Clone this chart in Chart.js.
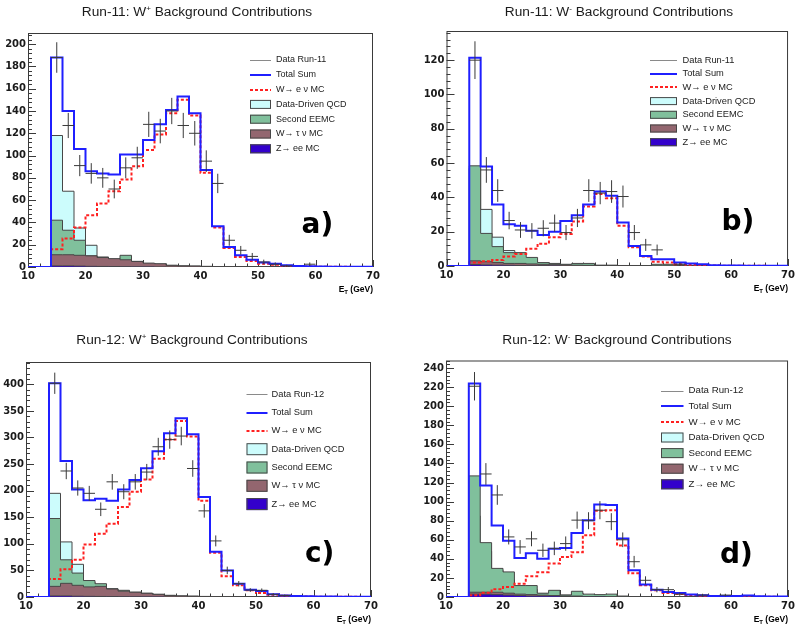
<!DOCTYPE html>
<html lang="en">
<head>
<meta charset="UTF-8">
<title>W Background Contributions</title>
<script src="https://cdn.jsdelivr.net/npm/chart.js@4.4.1/dist/chart.umd.min.js"></script>
<style>
    body { margin: 0; background: #ffffff; }
    .folha { position: relative; width: 798px; height: 631px; overflow: hidden; }
    .pad { position: absolute; }
    .titulo { position: absolute; font: 13.7px "Liberation Sans", Arial, sans-serif; line-height: 14px; color: #1a1a1a; white-space: nowrap; transform: translateX(-50%); }
    .titulo span { position: relative; top: -5px; font-size: 8px; }
</style>
</head>
<body>
<div class="folha">
    <canvas class="pad" id="padA" width="399" height="316" style="left:0;top:0"></canvas>
    <canvas class="pad" id="padB" width="399" height="316" style="left:399px;top:0"></canvas>
    <canvas class="pad" id="padC" width="399" height="316" style="left:0;top:315px"></canvas>
    <canvas class="pad" id="padD" width="399" height="316" style="left:399px;top:315px"></canvas>

    <div class="titulo" style="left:197px;top:5px">Run-11: W<span>+</span> Background Contributions</div>
    <div class="titulo" style="left:619px;top:5px">Run-11: W<span>-</span> Background Contributions</div>
    <div class="titulo" style="left:192px;top:333px">Run-12: W<span>+</span> Background Contributions</div>
    <div class="titulo" style="left:617px;top:333px">Run-12: W<span>-</span> Background Contributions</div>
</div>

<script>
    // bordas dos bins (GeV), largura 2
    const binEdges = [10,12,14,16,18,20,22,24,26,28,30,32,34,36,38,40,42,44,46,48,50,52,54,56,58,60,62,64,66,68,70];
    const legendLabels = ['Total Sum', 'W\u2192 e \u03bd MC', 'Data-Driven QCD', 'Second EEMC', 'W\u2192 \u03c4 \u03bd MC', 'Z\u2192 ee MC'];

    // Run-11 W+
    const r11pTotal = [0,0,188,140,106,86,84,83,101,101,114,128,141,153,138,87,36.5,18,10.5,6.5,4,3,1.5,0.8,0.6,0.5,0.3,0.3,0.2,0.2];
    const r11pWenu  = [0,0,16,25.5,35.5,46.5,57,68,78.5,90.5,105,119,138,150,136,84.5,35.5,17,9,5.4,3,2,1,0.6,0.4,0.3,0.2,0.2,0.1,0.1];
    const r11pQcd   = [0,0,118,68,35,19.5,6,4,3,2,1.5,1,1,0.5,0.5,0.5,0,0,0,0,0,0,0,0,0,0,0,0,0,0];
    const r11pEemc  = [0,0,42,33,24,10,9,7,10.5,5,3,2,1.5,1,0.5,0.5,0.3,0.2,0,0,0,0,0,0,0,0,0,0,0,0];
    const r11pTau   = [0,0,11,11,10.5,10,8.5,7.5,6.5,5,3.5,3,1.5,1,1,0.5,0.3,0.2,0.1,0,0,0,0,0,0,0,0,0,0,0];
    const r11pZee   = [0,0,1,1,0.8,0.6,0.5,0.4,0.3,0.2,0.2,0.1,0,0,0,0,0,0,0,0,0,0,0,0,0,0,0,0,0,0];
    const r11pDataX = [15,17,19,21,23,25,27,29,31,33,35,37,39,41,43,45,47,49,51,53,55,59];
    const r11pDataY = [188,127,91,84,80,70,89,98,128,122,140,127,120,95,75,24,15,9.5,4.5,2.5,1,2.5];
    const r11pDataE = [13.7,11.3,9.5,9.2,8.9,8.4,9.4,9.9,11.3,11,11.8,11.3,11,9.7,8.7,4.9,3.9,3.1,2.1,1.6,1,1.6];

    // Run-11 W-
    const r11mTotal = [0,0,121.4,58,35.8,24.4,23.4,20.6,18,20,26.3,29.6,35.8,43.4,41,25.3,11.7,5.8,3.9,3.9,2,1.5,1,0.5,0.3,0.3,0.2,0.2,0.2,0.1];
    const r11mWenu  = [0,0,2.1,2.7,3.5,5.5,7,10,13,16.8,18.7,26,34.7,42,39.5,23.4,10.9,5.5,2.5,2,1,0.7,0.4,0.3,0.2,0.1,0.1,0.1,0,0];
    const r11mQcd   = [0,0,57,33,16.8,9,4,2,1,0.5,0.5,0.5,0.3,0.3,0.2,0.2,0,0,0,0,0,0,0,0,0,0,0,0,0,0];
    const r11mEemc  = [0,0,58.4,19,11.3,7.8,7.8,5,2,1.5,1,1.5,1.5,0.5,0.5,0.3,0.3,0.2,1,1,0.5,0.3,0,0,0,0,0,0,0,0];
    const r11mTau   = [0,0,3,2.5,2,1.5,1.5,1.2,1,0.8,0.6,0.5,0.4,0.3,0.2,0.1,0,0,0,0,0,0,0,0,0,0,0,0,0,0];
    const r11mZee   = [0,0,0.8,0.6,0.5,0.4,0.3,0.2,0.2,0.1,0,0,0,0,0,0,0,0,0,0,0,0,0,0,0,0,0,0,0,0];
    const r11mDataX = [15,17,19,21,23,25,27,29,31,33,35,37,39,41,43,45,47,51];
    const r11mDataY = [120,56,44,26.5,21,20.5,22,25,19.5,28,44,42.5,43.4,40.5,19.5,12.3,9.4,1];
    const r11mDataE = [11,7.5,6.6,5.1,4.6,4.5,4.7,5,4.4,5.3,6.6,6.5,6.6,6.4,4.4,3.5,3.1,1];

    // Run-12 W+
    const r12pTotal = [0,0,402,255.6,202,182,185,181,202,220,242,274,308,336,306,188,85,50,25,13.8,11.3,5,3,2,1.5,1,1,0.5,0.5,0.5];
    const r12pWenu  = [0,0,34,52,70,98.6,119,138,169.5,198,221,260,296,331,302,181,83,39,22,12.6,7.5,4.4,2.5,1.5,1,0.7,0.5,0.4,0.3,0.2];
    const r12pQcd   = [0,0,195,103.6,61.5,28,18,12,8,5,3,2,1.5,1,0.5,0.5,0.3,0,0,0,0,0,0,0,0,0,0,0,0,0];
    const r12pEemc  = [0,0,147.6,70,45,31,25,15.7,12.6,9,7,5,3,2,1.5,1,0.5,0.3,0,0,0,0,0,0,0,0,0,0,0,0];
    const r12pTau   = [0,0,20,25.7,22,19,20,15,11,9,7,5,3,2,1.5,1,0.5,0.3,0.2,0,0,0,0,0,0,0,0,0,0,0];
    const r12pZee   = [0,0,2,2,1.5,1.2,1,0.8,0.6,0.5,0.4,0.3,0.2,0,0,0,0,0,0,0,0,0,0,0,0,0,0,0,0,0];
    const r12pDataX = [15,17,19,21,23,25,27,29,31,33,35,37,39,41,43,45,47,49,51,53,55];
    const r12pDataY = [402,237,205,195,165,216.6,198,216.6,235,282.6,296,302.7,241.7,162,105.5,50,25,13,12.6,5,3];
    const r12pDataE = [20,15.4,14.3,14,12.8,14.7,14.1,14.7,15.3,16.8,17.2,17.4,15.6,12.7,10.3,7.1,5,3.6,3.5,2.2,1.7];

    // Run-12 W-
    const r12mTotal = [0,0,224,117,75,59,41,46,40,50.5,51.5,67,80.6,97,96.4,61.3,28,13,7.7,5.3,4.2,2.5,1.8,1,1,1,1.5,0.8,0.5,0.5];
    const r12mWenu  = [0,0,1.8,4.5,8,10.5,14,21.7,26,35,42,47,64.8,90.4,91,54,25,12.3,7,4.2,3.2,2,1.2,0.8,0.5,0.4,0.3,0.2,0.2,0.1];
    const r12mQcd   = [0,0,85,48,28,18,10,8,3.5,4,2,2,1,1,1,0.5,0,0,0,0,0,0,0,0,0,0,0,0,0,0];
    const r12mEemc  = [0,0,127,57,30,26.3,12,12,4,7,2,6,3,2.5,3,1,0.5,0.3,0.3,0.2,0,0,0,0,0,0,0,0,0,0];
    const r12mTau   = [0,0,5,5,5,4,3,2.5,2,1.5,1,1,0.5,0.5,0.3,0.2,0,0,0,0,0,0,0,0,0,0,0,0,0,0];
    const r12mZee   = [0,0,3,3,2.5,2,1.5,1,1,1,0.5,0.5,0.3,0.2,0,0,0,0,0,0,0,0,0,0,0,0,0,0,0,0];
    const r12mDataX = [15,17,19,21,23,25,27,29,31,33,35,37,39,41,43,45,47,49,51,55,59];
    const r12mDataY = [221,129,107,63,52.5,61,49,51,56,80.6,80,91,79,60,37,17.5,7.7,7.7,3,2,2];
    const r12mDataE = [14.9,11.4,10.3,7.9,7.2,7.8,7,7.1,7.5,9,8.9,9.5,8.9,7.7,6.1,4.2,2.8,2.8,1.7,1.4,1.4];

    const cores = {
        dados: '#3a3a3a', legDados: '#8a8a8a', total: '#1f1fff', wenu: '#ff2020',
        qcd: '#ccfcfc', eemc: '#80c09c', tau: '#93666f', zee: '#3300cc', borda: '#474747'
    };

    const paineis = [
        { canvas: 'padA', nome: 'Data Run-11', letra: 'a)',
          total: r11pTotal, wenu: r11pWenu, qcd: r11pQcd, eemc: r11pEemc, tau: r11pTau, zee: r11pZee,
          dx: r11pDataX, dy: r11pDataY, de: r11pDataE,
          yMax: 210, yStep: 20, yMinor: 4,
          area: { left: 28, right: 373, top: 33, bottom: 267 },
          leg: { x0: 250, x1: 271, tx: 276, y0: 60, dy: 14.8, bh: 9, fs: 9 },
          letraPos: { x: 301.5, y: 233 } },
        { canvas: 'padB', nome: 'Data Run-11', letra: 'b)',
          total: r11mTotal, wenu: r11mWenu, qcd: r11mQcd, eemc: r11mEemc, tau: r11mTau, zee: r11mZee,
          dx: r11mDataX, dy: r11mDataY, de: r11mDataE,
          yMax: 137, yStep: 20, yMinor: 4,
          area: { left: 47.5, right: 393, top: 31, bottom: 266 },
          leg: { x0: 251, x1: 278, tx: 283.5, y0: 60, dy: 13.7, bh: 8, fs: 9.3 },
          letraPos: { x: 322.5, y: 230 } },
        { canvas: 'padC', nome: 'Data Run-12', letra: 'c)',
          total: r12pTotal, wenu: r12pWenu, qcd: r12pQcd, eemc: r12pEemc, tau: r12pTau, zee: r12pZee,
          dx: r12pDataX, dy: r12pDataY, de: r12pDataE,
          yMax: 442, yStep: 50, yMinor: 10,
          area: { left: 26, right: 371, top: 47, bottom: 282 },
          leg: { x0: 246.5, x1: 267.5, tx: 271.5, y0: 79.3, dy: 18.3, bh: 12, fs: 9.3 },
          letraPos: { x: 305, y: 247 } },
        { canvas: 'padD', nome: 'Data Run-12', letra: 'd)',
          total: r12mTotal, wenu: r12mWenu, qcd: r12mQcd, eemc: r12mEemc, tau: r12mTau, zee: r12mZee,
          dx: r12mDataX, dy: r12mDataY, de: r12mDataE,
          yMax: 248, yStep: 20, yMinor: 4,
          area: { left: 47, right: 392, top: 45.5, bottom: 282 },
          leg: { x0: 262, x1: 284.5, tx: 289.5, y0: 75.7, dy: 15.6, bh: 10, fs: 9.7 },
          letraPos: { x: 321, y: 248 } }
    ];

    function degraus(valores) {
        return binEdges.map((e, i) => ({ x: e, y: i < valores.length ? valores[i] : 0 }));
    }

    function cruzes(xs, ys, es) {
        const pts = [];
        xs.forEach((x, i) => {
            pts.push({ x: x - 1, y: ys[i] }, { x: x + 1, y: ys[i] }, { x: x, y: null },
                     { x: x, y: ys[i] - es[i] }, { x: x, y: ys[i] + es[i] }, { x: x, y: null });
        });
        return pts;
    }

    function criarPlugin(p) {
        return {
            id: 'moldura',
            beforeDatasetsDraw(chart) {
                const { ctx, chartArea: a, scales: { x, y } } = chart;
                ctx.save();
                ctx.strokeStyle = '#3a3a3a';
                ctx.lineWidth = 1;
                ctx.strokeRect(a.left + 0.5, a.top + 0.5, a.right - a.left - 1, a.bottom - a.top - 1);
                ctx.beginPath();
                const nY = Math.floor(p.yMax / p.yMinor);
                const cada = p.yStep / p.yMinor;
                for (let k = 0; k <= nY; k++) {
                    const py = Math.round(y.getPixelForValue(k * p.yMinor)) + 0.5;
                    const len = (k % cada === 0) ? 8 : 4;
                    ctx.moveTo(a.left, py);
                    ctx.lineTo(a.left + len, py);
                }
                for (let k = 0; k <= 30; k++) {
                    const px = Math.round(x.getPixelForValue(10 + k * 2)) + 0.5;
                    const len = (k % 5 === 0) ? 7 : 3.5;
                    ctx.moveTo(px, a.bottom);
                    ctx.lineTo(px, a.bottom - len);
                }
                ctx.stroke();
                ctx.restore();
            },
            afterDraw(chart) {
                const { ctx, chartArea: a } = chart;
                const L = p.leg;
                ctx.save();
                ctx.font = L.fs + 'px "Liberation Sans", Arial, sans-serif';
                ctx.textBaseline = 'middle';
                ctx.fillStyle = '#222';
                const itens = [
                    { t: p.nome, tipo: 'linha', cor: cores.legDados, lw: 1 },
                    { t: legendLabels[0], tipo: 'linha', cor: cores.total, lw: 2 },
                    { t: legendLabels[1], tipo: 'linha', cor: cores.wenu, lw: 2, dash: [3, 2] },
                    { t: legendLabels[2], tipo: 'caixa', cor: cores.qcd },
                    { t: legendLabels[3], tipo: 'caixa', cor: cores.eemc },
                    { t: legendLabels[4], tipo: 'caixa', cor: cores.tau },
                    { t: legendLabels[5], tipo: 'caixa', cor: cores.zee }
                ];
                itens.forEach((it, i) => {
                    const yy = L.y0 + i * L.dy;
                    if (it.tipo === 'linha') {
                        ctx.beginPath();
                        ctx.strokeStyle = it.cor;
                        ctx.lineWidth = it.lw;
                        ctx.setLineDash(it.dash || []);
                        ctx.moveTo(L.x0, Math.round(yy) + (it.lw === 1 ? 0.5 : 0));
                        ctx.lineTo(L.x1, Math.round(yy) + (it.lw === 1 ? 0.5 : 0));
                        ctx.stroke();
                        ctx.setLineDash([]);
                    } else {
                        ctx.fillStyle = it.cor;
                        ctx.fillRect(L.x0, yy - L.bh / 2, L.x1 - L.x0, L.bh);
                        ctx.strokeStyle = cores.borda;
                        ctx.lineWidth = 1;
                        ctx.strokeRect(L.x0 + 0.5, yy - L.bh / 2 + 0.5, L.x1 - L.x0 - 1, L.bh - 1);
                    }
                    ctx.fillStyle = '#222';
                    ctx.fillText(it.t, L.tx, yy);
                });

                // letra do painel
                ctx.fillStyle = '#000';
                ctx.textBaseline = 'alphabetic';
                ctx.font = 'bold 28px "DejaVu Sans", sans-serif';
                ctx.fillText(p.letra, p.letraPos.x, p.letraPos.y);

                // titulo do eixo x: E_T (GeV)
                const base = a.bottom + 24.7;
                ctx.font = 'bold 8.5px "Liberation Sans", Arial, sans-serif';
                const wG = ctx.measureText(' (GeV)').width;
                const wE = ctx.measureText('E').width;
                ctx.font = 'bold 6px "Liberation Sans", Arial, sans-serif';
                const wT = ctx.measureText('T').width;
                let xx = a.right - wG - wT - wE;
                ctx.textAlign = 'left';
                ctx.font = 'bold 8.5px "Liberation Sans", Arial, sans-serif';
                ctx.fillText('E', xx, base);
                ctx.font = 'bold 6px "Liberation Sans", Arial, sans-serif';
                ctx.fillText('T', xx + wE, base + 2.5);
                ctx.font = 'bold 8.5px "Liberation Sans", Arial, sans-serif';
                ctx.fillText(' (GeV)', xx + wE + wT, base);
                ctx.restore();
            }
        };
    }

    const fonteTicks = { family: '"DejaVu Sans", sans-serif', weight: 'bold', size: 10 };

    paineis.forEach(p => {
        const W = 399, H = 316;
        new Chart(document.getElementById(p.canvas), {
            type: 'line',
            data: {
                datasets: [
                    { data: cruzes(p.dx, p.dy, p.de), borderColor: cores.dados, borderWidth: 1, spanGaps: false, order: 0 },
                    { data: degraus(p.total), stepped: true, borderColor: cores.total, borderWidth: 2, fill: false, order: 1 },
                    { data: degraus(p.wenu), stepped: true, borderColor: cores.wenu, borderWidth: 2, borderDash: [3, 2], fill: false, order: 2 },
                    { data: degraus(p.zee), stepped: true, borderColor: cores.borda, backgroundColor: cores.zee, borderWidth: 1, fill: 'origin', order: 3 },
                    { data: degraus(p.tau), stepped: true, borderColor: cores.borda, backgroundColor: cores.tau, borderWidth: 1, fill: 'origin', order: 4 },
                    { data: degraus(p.eemc), stepped: true, borderColor: cores.borda, backgroundColor: cores.eemc, borderWidth: 1, fill: 'origin', order: 5 },
                    { data: degraus(p.qcd), stepped: true, borderColor: cores.borda, backgroundColor: cores.qcd, borderWidth: 1, fill: 'origin', order: 6 }
                ]
            },
            options: {
                responsive: false,
                animation: false,
                devicePixelRatio: 1,
                layout: { padding: { left: 0, top: p.area.top, right: W - p.area.right, bottom: 0 } },
                elements: { point: { radius: 0 }, line: { tension: 0 } },
                plugins: { legend: { display: false }, tooltip: { enabled: false } },
                scales: {
                    x: {
                        type: 'linear', min: 10, max: 70,
                        grid: { display: false, drawTicks: false }, border: { display: false },
                        ticks: { stepSize: 10, autoSkip: false, maxRotation: 0, padding: 3, font: fonteTicks, color: '#1a1a1a' },
                        afterFit: s => { s.height = H - p.area.bottom; }
                    },
                    y: {
                        type: 'linear', min: 0, max: p.yMax,
                        grid: { display: false, drawTicks: false }, border: { display: false },
                        ticks: { stepSize: p.yStep, includeBounds: false, padding: 2, font: fonteTicks, color: '#1a1a1a' },
                        afterFit: s => { s.width = p.area.left; }
                    }
                }
            },
            plugins: [criarPlugin(p)]
        });
    });
</script>
</body>
</html>
